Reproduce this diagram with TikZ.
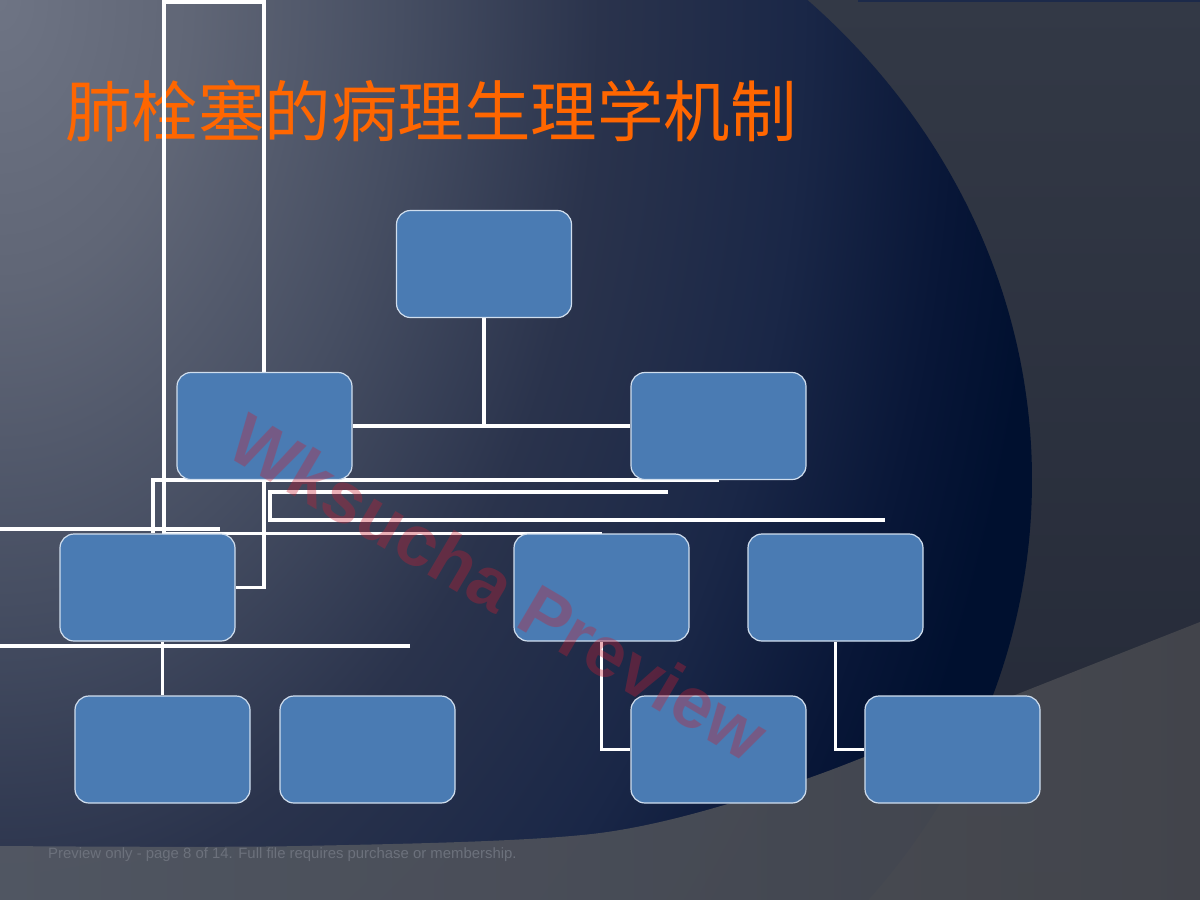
\documentclass[tikz,border=0pt]{standalone}
\usepackage{fontspec}
\setmainfont{Liberation Sans}
\newfontfamily\cjk{Noto Sans CJK SC}
\usetikzlibrary{calc}
\definecolor{bgA}{HTML}{6E7484}
\definecolor{bgB}{HTML}{606676}
\definecolor{bgC}{HTML}{464E62}
\definecolor{bgD}{HTML}{2A334C}
\definecolor{bgE}{HTML}{1A2747}
\definecolor{bgF}{HTML}{081637}
\definecolor{bgG}{HTML}{00102F}
\definecolor{rightTop}{HTML}{333946}
\definecolor{rightBot}{HTML}{232836}
\definecolor{swL}{HTML}{545964}
\definecolor{swR}{HTML}{45474D}
\definecolor{boxfill}{HTML}{4A7BB3}
\definecolor{boxline}{HTML}{D0DEEE}
\definecolor{titleor}{HTML}{FF6600}
\definecolor{wmred}{HTML}{C81E32}
\definecolor{footgray}{HTML}{6C717C}
\definecolor{topstrip}{HTML}{1C2A4A}
\pgfdeclareradialshading{bgrad}{\pgfpoint{0bp}{0bp}}{color(0bp)=(bgA); color(3.96bp)=(bgB); color(8.33bp)=(bgC); color(12.5bp)=(bgD); color(16.7bp)=(bgE); color(20bp)=(bgF); color(21.9bp)=(bgG); color(50bp)=(bgG)}
\tikzset{
  orgbox/.style={draw=boxline, line width=1.2pt, fill=boxfill, rounded corners=14pt,
    minimum width=175pt, minimum height=107pt, inner sep=0pt},
  conn/.style={draw=white, line width=3.6pt}
}
\begin{document}
\begin{tikzpicture}[x=1pt,y=-1pt]
\useasboundingbox (0,0) rectangle (1200,900);
% background
\shade[top color=rightTop, bottom color=rightBot] (0,0) rectangle (1200,900);
\begin{scope}
  \clip (300,480) ellipse [x radius=732, y radius=666];
  \shade[shading=bgrad] (0,0) ellipse [x radius=1200, y radius=1800];
\end{scope}
\fill[topstrip] (858,0) rectangle (1200,2);
\shade[left color=swL, right color=swR, opacity=0.92]
  plot[smooth] coordinates {(0,846) (300,846) (600,833) (800,781) (1000,701) (1200,622)}
  -- (1200,900) -- (0,900) -- cycle;
% title
\node[anchor=base west, inner sep=0pt, text=titleor, font=\cjk\fontsize{66.5}{66.5}\selectfont] (title) at (65,136) {肺栓塞的病理生理学机制};
% footer
\node[anchor=west, inner sep=0pt, text=footgray, font=\fontsize{14.9}{14.9}\selectfont] (foot) at (48,855) {Preview only - page 8 of 14. Full file requires purchase or membership.};
% free-end coordinates
\coordinate (k1) at (164,2);
\coordinate (k2) at (264,2);
\coordinate (k3) at (668,492);
\coordinate (k4) at (885,520);
\coordinate (k5) at (270,492);
\coordinate (k6) at (0,529);
\coordinate (k7) at (220,529);
\coordinate (k8) at (0,646);
\coordinate (k9) at (410,646);
% box positions
\path
  (484,264) coordinate (p0)
  (264.5,426) coordinate (p1L)
  (718.5,426) coordinate (p1R)
  (147.5,587.5) coordinate (p2A)
  (601.5,587.5) coordinate (p2B)
  (835.5,587.5) coordinate (p2C)
  (162.5,749.5) coordinate (p3D)
  (367.5,749.5) coordinate (p3E)
  (718.5,749.5) coordinate (p3F)
  (952.5,749.5) coordinate (p3G);
\path
  node[orgbox, draw=none, fill=none] (n0) at (p0) {}
  node[orgbox, draw=none, fill=none] (n1L) at (p1L) {}
  node[orgbox, draw=none, fill=none] (n1R) at (p1R) {}
  node[orgbox, draw=none, fill=none] (n2A) at (p2A) {}
  node[orgbox, draw=none, fill=none] (n2B) at (p2B) {}
  node[orgbox, draw=none, fill=none] (n2C) at (p2C) {}
  node[orgbox, draw=none, fill=none] (n3D) at (p3D) {}
  node[orgbox, draw=none, fill=none] (n3E) at (p3E) {}
  node[orgbox, draw=none, fill=none] (n3F) at (p3F) {}
  node[orgbox, draw=none, fill=none] (n3G) at (p3G) {};
% connectors
\draw[conn] (n0.south) -- (n0.south |- n1L.east);
\draw[conn] (n1L.east) -- (n1R.west);
\draw[conn] (n1R.south) -| ([xshift=5.5pt]n2A.north);
\draw[conn] (n2B.north) -| (k1) -- (k2) |- (n2A.east);
\draw[conn] (k3) -- (k5) |- (k4);
\draw[conn] (k6) -- (k7);
\draw[conn] (k8) -- (k9);
\draw[conn] (n3D.north |- n2A.south) -- (n3D.north);
\draw[conn] (n2B.south) |- (n3F.west);
\draw[conn] (n2C.south) |- (n3G.west);
% boxes
\foreach \n in {n0,n1L,n1R,n2A,n2B,n2C,n3D,n3E,n3F,n3G}
  \node[orgbox] at (\n) {};
% watermark
\node[rotate=-30.5, inner sep=0pt, text=wmred, opacity=0.35, font=\bfseries\fontsize{72}{72}\selectfont] (wm) at (499,587) {Wksucha Preview};
\end{tikzpicture}
\end{document}
